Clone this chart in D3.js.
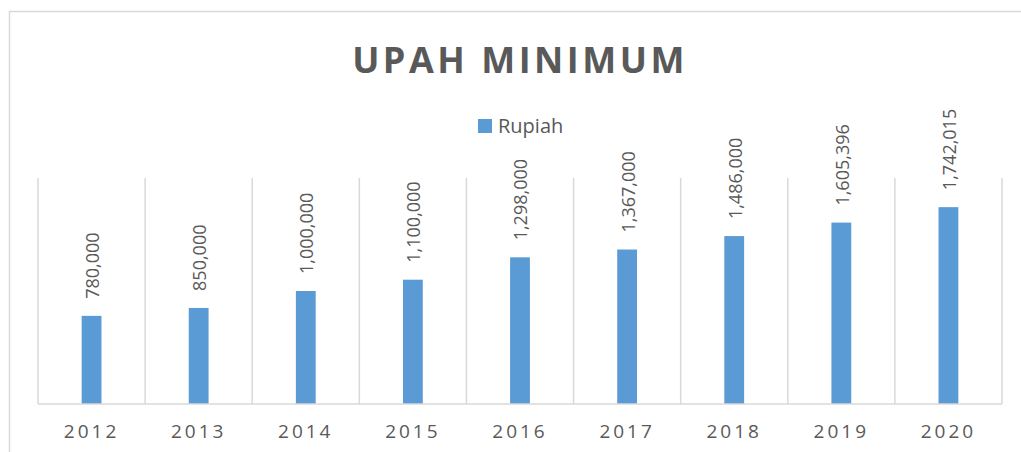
<!DOCTYPE html>
<html>
<head>
<meta charset="utf-8">
<script src="https://cdn.jsdelivr.net/npm/d3@7"></script>
<style>
  body { margin: 0; background: #fff; }
  svg { display: block; font-family: "Open Sans", sans-serif; }
</style>
</head>
<body>
<svg id="chart" width="1021" height="452"></svg>
<script>
// data
const years = ["2012", "2013", "2014", "2015", "2016", "2017", "2018", "2019", "2020"];
const rupiah = [780000, 850000, 1000000, 1100000, 1298000, 1367000, 1486000, 1605396, 1742015];
const seriesName = "Rupiah";
const title = "UPAH MINIMUM";

const svg = d3.select("#chart");
const margin = {left: 38, right: 1002, top: 178, bottom: 404};
const grey = "#595959", gridGrey = "#d9d9d9", blue = "#5b9bd5";

// outer chart border (runs off the right and bottom edge)
svg.append("rect")
    .attr("x", 9.5).attr("y", 11.5)
    .attr("width", 1040).attr("height", 470)
    .attr("fill", "none")
    .attr("stroke", gridGrey)
    .attr("stroke-width", 1.5);

let x = d3.scaleBand()
    .domain(years)
    .range([margin.left, margin.right]);

let y = d3.scaleLinear()
    .domain([0, 2000000])
    .range([margin.bottom, margin.top]);

let barW = x.bandwidth() * 0.185;

// category separators
let g = svg.append("g");
g.selectAll("line.sep")
    .data(years.concat(["end"]))
    .enter().append("line")
    .attr("class", "sep")
    .attr("x1", (d, i) => margin.left + i * x.bandwidth())
    .attr("x2", (d, i) => margin.left + i * x.bandwidth())
    .attr("y1", margin.top)
    .attr("y2", margin.bottom)
    .attr("stroke", gridGrey)
    .attr("stroke-width", 1.5);

// bars
g.selectAll("rect.bar")
    .data(rupiah)
    .enter().append("rect")
    .attr("class", "bar")
    .attr("x", (d, i) => x(years[i]) + x.bandwidth() / 2 - barW / 2)
    .attr("y", d => y(d))
    .attr("width", barW)
    .attr("height", d => y(0) - y(d))
    .attr("fill", blue);

// x axis line
g.append("line")
    .attr("x1", margin.left).attr("x2", margin.right)
    .attr("y1", margin.bottom).attr("y2", margin.bottom)
    .attr("stroke", gridGrey)
    .attr("stroke-width", 1.5);

// value labels, rotated
let fmt = d3.format(",");
g.selectAll("text.val")
    .data(rupiah)
    .enter().append("text")
    .attr("class", "val")
    .attr("transform", (d, i) => "translate(" + (x(years[i]) + x.bandwidth() / 2 + 1) + "," + (y(d) - 17) + ") rotate(-90)")
    .attr("dy", "0.36em")
    .attr("font-size", 18)
    .attr("fill", grey)
    .text(d => fmt(d));

// category labels
g.selectAll("text.cat")
    .data(years)
    .enter().append("text")
    .attr("class", "cat")
    .attr("x", d => x(d) + x.bandwidth() / 2)
    .attr("y", 438)
    .attr("text-anchor", "middle")
    .attr("font-size", 19)
    .attr("letter-spacing", "3px")
    .attr("fill", grey)
    .text(d => d);

// title
svg.append("text")
    .attr("x", 520)
    .attr("y", 73)
    .attr("text-anchor", "middle")
    .attr("font-size", 36)
    .attr("font-weight", "bold")
    .attr("letter-spacing", "3.5px")
    .attr("fill", grey)
    .text(title);

// legend
let lg = svg.append("g");
lg.append("rect")
    .attr("x", 478).attr("y", 119)
    .attr("width", 14).attr("height", 14)
    .attr("fill", blue);
lg.append("text")
    .attr("x", 498).attr("y", 133)
    .attr("font-size", 20)
    .attr("fill", grey)
    .text(seriesName);
</script>
</body>
</html>
